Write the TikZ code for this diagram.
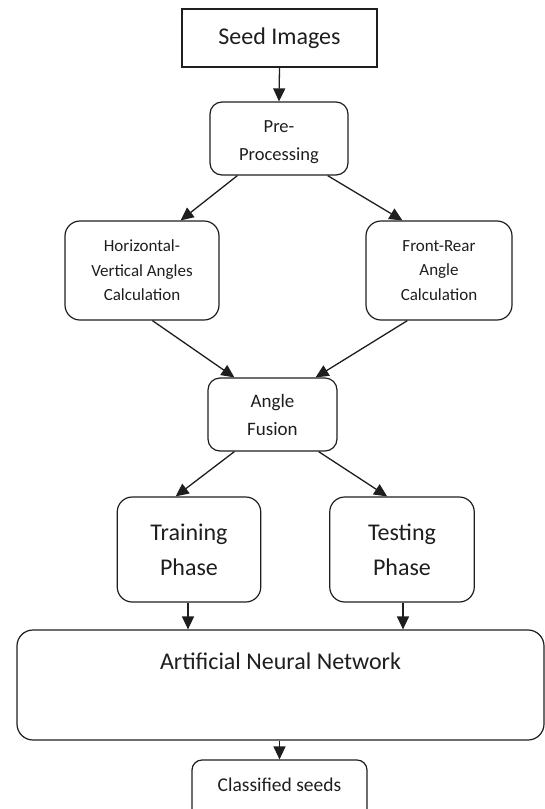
\documentclass[tikz,border=0pt]{standalone}
\usepackage{fontspec}
\setmainfont{Carlito}
\usetikzlibrary{arrows.meta,calc}
\definecolor{ink}{HTML}{1E1E1E}
\begin{document}
\begin{tikzpicture}[x=1pt,y=-1pt,
  box/.style={draw=ink, line width=1.2pt, align=center, inner sep=0pt, text=ink},
  rbox/.style={box, rounded corners=12pt},
  arr/.style={draw=ink, line width=1.3pt, -{Triangle[length=13pt,width=12pt]}},
]
\useasboundingbox (0,0) rectangle (545,809);

\node[box, minimum width=195pt, minimum height=58pt, font=\fontsize{24}{28}\selectfont] (seed) at (279.5,38) {Seed Images};
\node[rbox, minimum width=138pt, minimum height=73pt, font=\fontsize{18.5}{27.7}\selectfont] (pre) at (279,138.5) {\strut Pre-\\Processing};
\node[rbox, rounded corners=15pt, minimum width=154pt, minimum height=99pt, font=\fontsize{17}{24.5}\selectfont] (hv) at (142,270.5) {Horizontal-\\Vertical Angles\\Calculation};
\node[rbox, rounded corners=15pt, minimum width=146pt, minimum height=99pt, font=\fontsize{17}{24.5}\selectfont] (fr) at (439,270.5) {Front-Rear\\Angle\\Calculation};
\node[rbox, minimum width=129pt, minimum height=73pt, font=\fontsize{19}{28}\selectfont] (af) at (272.5,414.5) {Angle\\Fusion};
\node[rbox, rounded corners=15pt, minimum width=143.5pt, minimum height=105pt, font=\fontsize{24}{35}\selectfont] (train) at (189,549.5) {Training\\Phase};
\node[rbox, rounded corners=15pt, minimum width=144.5pt, minimum height=105pt, font=\fontsize{24}{35}\selectfont] (test) at (402,549.5) {Testing\\Phase};
\node[rbox, rounded corners=16pt, minimum width=527pt, minimum height=110pt] (ann) at (280.5,685) {};
\node[text=ink, inner sep=0pt, font=\fontsize{24}{28}\selectfont] (annt) at (280.5,661) {Artificial Neural Network};
\node[rbox, rounded corners=10pt, minimum width=175pt, minimum height=60pt, font=\fontsize{19.5}{24}\selectfont, text depth=0pt] (cls) at (279.5,790) {\raisebox{10pt}{Classified seeds}};

\draw[arr] (seed.south) -- (pre.north);
\draw[arr] ($(pre.south west)+(28,0)$) -- ($(hv.north east)+(-39,0)$);
\draw[arr] ($(pre.south east)+(-21,0)$) -- ($(fr.north west)+(37,0)$);
\draw[arr] ($(hv.south west)+(88,0)$) -- ($(af.north west)+(27,0)$);
\draw[arr] ($(fr.south west)+(42,0)$) -- ($(af.north east)+(-22,0)$);
\draw[arr] ($(af.south west)+(27,0)$) -- ($(train.north west)+(59,0)$);
\draw[arr] ($(af.south east)+(-19,0)$) -- ($(test.north west)+(58,0)$);
\draw[arr] (train.south -| 188,0) -- (ann.north -| 188,0);
\draw[arr] (test.south -| 403,0) -- (ann.north -| 403,0);
\draw[arr] (ann.south -| cls.north) -- (cls.north);
\end{tikzpicture}
\end{document}
